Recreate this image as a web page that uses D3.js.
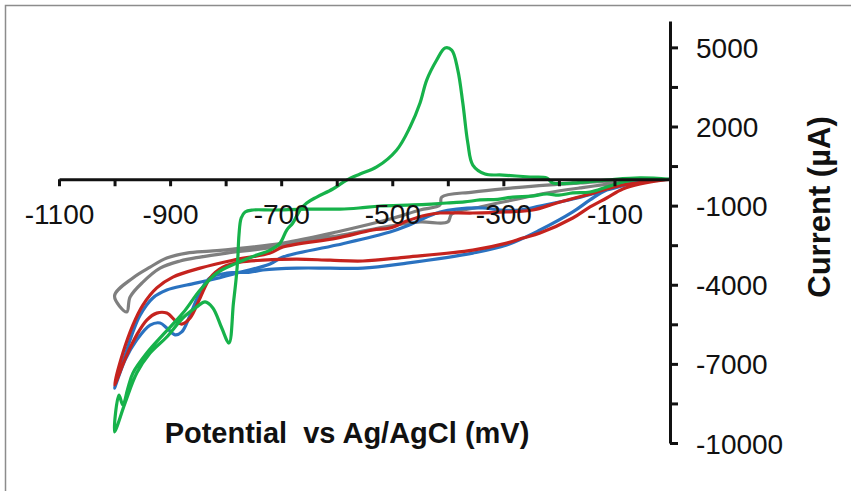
<!DOCTYPE html>
<html>
<head>
<meta charset="utf-8">
<script src="https://cdn.jsdelivr.net/npm/d3@7"></script>
<style>
  body { margin: 0; background: #fff; }
  svg { display: block; }
  text { font-family: "Liberation Sans", Arial, sans-serif; fill: #111; }
</style>
</head>
<body>
<svg width="851" height="491"></svg>
<script>

var svg = d3.select('svg');
var width = 851;
var height = 491;

// tick labels
var xTickLabels = [-1100, -900, -700, -500, -300, -100];
var yTickLabels = [5000, 2000, -1000, -4000, -7000, -10000];

// scans as [potential mV, current uA]
var greyScan = [
    [0, 0], [-90, -30], [-162, -140], [-222, -220], [-283, -330], [-355, -485],
    [-411, -675], [-414, -975], [-450, -1165], [-504, -1510], [-600, -2000],
    [-697, -2420], [-787, -2650], [-828, -2725], [-870, -2800], [-906, -2990],
    [-936, -3330], [-967, -3740], [-1000, -4425],
    [-978, -5030], [-972, -4465], [-949, -3900], [-918, -3370], [-882, -3100],
    [-846, -2950], [-798, -2800], [-726, -2610], [-666, -2340], [-600, -2150],
    [-504, -1775], [-450, -1620], [-400, -1620], [-393, -1320], [-342, -1050],
    [-283, -785], [-222, -520], [-162, -330], [-90, -140], [0, 0]
];

var blueScan = [
    [0, 0], [-54, -105], [-114, -405], [-144, -785], [-175, -1240], [-234, -1925],
    [-294, -2495], [-355, -2800], [-474, -3180], [-553, -3370], [-612, -3370],
    [-672, -3370], [-733, -3440], [-756, -3520], [-798, -3560], [-828, -3740],
    [-846, -4275], [-864, -5150], [-879, -5790], [-891, -5900], [-906, -5640],
    [-918, -5450], [-936, -5530], [-960, -6090], [-981, -6850], [-1000, -7920],
    [-981, -6670], [-967, -5790], [-954, -5150], [-931, -4500], [-906, -4200],
    [-870, -4010], [-828, -3820], [-787, -3600], [-720, -3210], [-697, -2950],
    [-600, -2495], [-504, -2000], [-474, -1775], [-438, -1430], [-414, -1240],
    [-384, -1130], [-337, -1090], [-306, -1165], [-270, -1165], [-234, -1015],
    [-175, -750], [-114, -405], [-54, -105], [0, 0]
];

var redScan = [
    [0, 0], [-54, -180], [-85, -370], [-114, -710], [-144, -1050], [-175, -1470],
    [-234, -2040], [-265, -2230], [-294, -2420], [-355, -2685], [-474, -2950],
    [-553, -3100], [-612, -3070], [-672, -3030], [-733, -3070], [-774, -3140],
    [-805, -3330], [-828, -3740], [-846, -4500], [-864, -5260], [-879, -5490],
    [-888, -5410], [-906, -5075], [-924, -5075], [-942, -5340], [-960, -5900],
    [-978, -6670], [-1000, -7800],
    [-985, -6590], [-967, -5530], [-949, -4770], [-924, -4120], [-895, -3710],
    [-846, -3370], [-787, -3070], [-720, -2800], [-697, -2570], [-600, -2230],
    [-535, -1925], [-504, -1850], [-474, -1585], [-438, -1355], [-414, -1280],
    [-355, -1280], [-294, -1240], [-247, -1165], [-204, -900], [-144, -560],
    [-85, -220], [0, 0]
];

var greenScan = [
    [0, 0], [-54, 0], [-85, -105], [-114, -295], [-144, -485], [-175, -520],
    [-200, -600], [-222, -560], [-250, -640], [-283, -675], [-310, -760],
    [-342, -785], [-370, -860], [-402, -900], [-430, -940], [-463, -975],
    [-522, -1015], [-560, -1090], [-594, -1130], [-654, -1130], [-715, -1165],
    [-751, -1165], [-765, -1240], [-772, -1470], [-776, -2115], [-778, -2950],
    [-781, -3750], [-786, -4700], [-794, -6210], [-807, -5640], [-823, -4880],
    [-837, -4650], [-852, -4840], [-877, -5260], [-906, -5980], [-936, -6590],
    [-960, -7350], [-981, -8480], [-1000, -9580],
    [-992, -8180], [-985, -8560], [-976, -7920], [-967, -7350], [-942, -6590],
    [-913, -5900], [-877, -5075], [-846, -4200], [-816, -3560], [-780, -3180],
    [-744, -2875], [-720, -2685], [-702, -2420], [-690, -1925], [-679, -1660],
    [-666, -1165], [-654, -900], [-636, -675], [-607, -370], [-582, -30],
    [-558, 200], [-528, 465], [-492, 1110], [-468, 1980], [-450, 2890],
    [-438, 3760], [-420, 4520], [-405, 4980], [-393, 4900], [-382, 4140],
    [-373, 2890], [-364, 1375], [-355, 540], [-333, 200], [-301, 160],
    [-252, 85], [-222, 50], [-211, -140], [-175, -140], [-114, -30],
    [-54, 50], [0, 0]
];

var series = [
    {name: 'grey', color: '#7f7f7f', values: greyScan},
    {name: 'blue', color: '#2a72c0', values: blueScan},
    {name: 'red', color: '#c5231e', values: redScan},
    {name: 'green', color: '#16b24a', values: greenScan}
];

var x = d3.scaleLinear().domain([-1100, 0]).range([59, 670]);
var y = d3.scaleLinear().domain([-10000, 6000]).range([443, 21]);

drawFrame();
drawCurves();
drawAxes();

function drawFrame() {
    svg.append('path')
        .attr('d', 'M5.5,' + height + 'V5.5H' + width)
        .attr('fill', 'none')
        .attr('stroke', '#8c8c8c')
        .attr('stroke-width', 1.5);
}

function drawCurves() {
    var line = d3.line()
        .x(function(d) { return x(d[0]); })
        .y(function(d) { return y(d[1]); })
        .curve(d3.curveCatmullRom.alpha(0.5));

    svg.selectAll('path.scan')
        .data(series)
        .enter()
        .append('path')
        .attr('class', 'scan')
        .attr('d', function(d) { return line(d.values); })
        .attr('fill', 'none')
        .attr('stroke', function(d) { return d.color; })
        .attr('stroke-width', 3.2)
        .attr('stroke-linejoin', 'round')
        .attr('stroke-linecap', 'round');
}

function drawAxes() {
    var xAxis = d3.axisBottom(x)
        .tickValues(d3.range(-1100, 0, 100))
        .tickSize(7)
        .tickSizeOuter(0)
        .tickFormat(function(d) { return xTickLabels.indexOf(d) >= 0 ? d : ''; });

    var gx = svg.append('g')
        .attr('transform', 'translate(0,' + y(0) + ')')
        .call(xAxis);
    gx.selectAll('text')
        .attr('y', 45)
        .attr('dy', 0)
        .style('font-size', '28px')
        .style('fill', '#111');

    var yAxis = d3.axisRight(y)
        .tickValues(d3.range(-10000, 6000, 1500))
        .tickSize(8)
        .tickSizeOuter(0)
        .tickFormat(function(d) { return yTickLabels.indexOf(d) >= 0 ? d : ''; });

    var gy = svg.append('g')
        .attr('transform', 'translate(' + x(0) + ',0)')
        .call(yAxis);
    gy.selectAll('text')
        .attr('x', 26)
        .attr('dy', '0.36em')
        .style('font-size', '28px')
        .style('fill', '#111');

    svg.selectAll('.domain, .tick line')
        .attr('stroke', '#111')
        .attr('stroke-width', 3);

    svg.append('text')
        .attr('x', 347)
        .attr('y', 443)
        .attr('text-anchor', 'middle')
        .style('font-size', '29px')
        .style('font-weight', 'bold')
        .style('white-space', 'pre')
        .text('Potential  vs Ag/AgCl (mV)');

    svg.append('text')
        .attr('transform', 'translate(830,207) rotate(-90)')
        .attr('text-anchor', 'middle')
        .style('font-size', '31px')
        .style('font-weight', 'bold')
        .text('Current (µA)');
}
</script>
</body>
</html>
